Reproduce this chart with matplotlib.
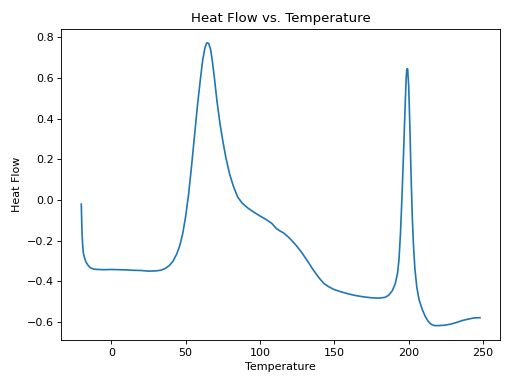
import matplotlib
matplotlib.use("Agg")
import matplotlib.pyplot as plt

temperature = [-20.2, -20.0, -19.7, -19.3, -18.8, -18.0, -17.0, -15.5, -14.0, -12.0, -9.0, -5.0, 0.0,
               5.0, 10.0, 15.0, 20.0, 25.0, 30.0, 33.0, 36.0, 39.0, 41.5, 44.0, 46.0, 48.0, 50.0,
               52.0, 54.0, 56.0, 58.0, 60.0, 61.5, 63.0, 64.2, 65.5, 66.8, 68.0, 69.5, 71.0, 73.0,
               75.0, 77.0, 79.5, 82.0, 85.0, 88.0, 92.0, 96.0, 100.0, 104.0, 108.0, 111.0, 113.5,
               116.0, 120.0, 124.0, 128.0, 132.0, 136.0, 140.0, 143.0, 146.0, 150.0, 155.0, 160.0,
               165.0, 170.0, 175.0, 180.0, 184.0, 186.5, 189.0, 191.0, 192.5, 193.5, 194.5, 195.5,
               196.5, 197.5, 198.3, 198.8, 199.3, 200.0, 200.8, 201.6, 202.4, 203.2, 204.2, 205.5,
               207.0, 209.0, 211.0, 213.0, 215.0, 217.5, 220.0, 224.0, 228.0, 232.0, 236.0, 240.0,
               244.0, 248.0]
heat_flow = [-0.02, -0.08, -0.16, -0.22, -0.26, -0.285, -0.305, -0.322, -0.333, -0.339, -0.341, -0.342, -0.341,
             -0.342, -0.343, -0.345, -0.346, -0.349, -0.348, -0.345, -0.337, -0.322, -0.30, -0.265, -0.225, -0.165, -0.08,
             0.03, 0.17, 0.32, 0.47, 0.60, 0.69, 0.75, 0.773, 0.77, 0.74, 0.68, 0.59, 0.49, 0.38,
             0.29, 0.21, 0.13, 0.07, 0.015, -0.015, -0.04, -0.06, -0.078, -0.095, -0.115, -0.14, -0.152,
             -0.162, -0.188, -0.22, -0.257, -0.30, -0.345, -0.385, -0.41, -0.425, -0.44, -0.452, -0.462,
             -0.47, -0.476, -0.48, -0.482, -0.478, -0.468, -0.445, -0.41, -0.36, -0.29, -0.16, 0.02,
             0.22, 0.44, 0.60, 0.645, 0.645, 0.56, 0.36, 0.12, -0.08, -0.22, -0.34, -0.43,
             -0.49, -0.535, -0.57, -0.595, -0.61, -0.617, -0.617, -0.615, -0.61, -0.602, -0.592, -0.585,
             -0.579, -0.578]

fig, ax = plt.subplots(figsize=(6.4, 4.8), dpi=80)
ax.plot(temperature, heat_flow, color="#1f77b4", linewidth=1.5)
ax.set_title("Heat Flow vs. Temperature")
ax.set_xlabel("Temperature")
ax.set_ylabel("Heat Flow")
fig.tight_layout()
fig.savefig("out.png", dpi=80)
